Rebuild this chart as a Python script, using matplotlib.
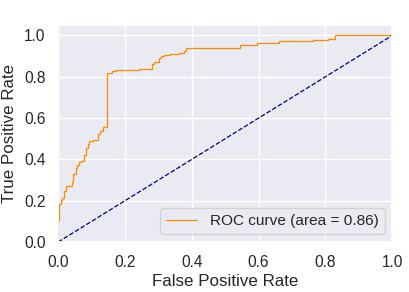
import matplotlib
matplotlib.use("Agg")
import matplotlib.pyplot as plt
import seaborn as sns

sns.set_theme(style="darkgrid")
plt.rcParams['font.family'] = ['Liberation Sans', 'DejaVu Sans']

# ROC step points: at each fpr the tpr rises to the given value
fpr = [0.0, 0.0, 0.004, 0.009, 0.013, 0.019, 0.025, 0.041, 0.046, 0.053, 0.058,
       0.063, 0.068, 0.079, 0.085, 0.091, 0.094, 0.106, 0.118, 0.126, 0.133,
       0.145, 0.161, 0.172, 0.241, 0.281, 0.288, 0.301, 0.309, 0.316, 0.336,
       0.363, 0.376, 0.383, 0.545, 0.594, 0.66, 0.762, 0.808, 0.83, 1.0]
tpr = [0.0, 0.106, 0.182, 0.203, 0.211, 0.246, 0.27, 0.29, 0.328, 0.36, 0.375,
       0.386, 0.393, 0.419, 0.453, 0.477, 0.49, 0.496, 0.525, 0.536, 0.557,
       0.82, 0.826, 0.834, 0.839, 0.86, 0.873, 0.892, 0.899, 0.903, 0.908,
       0.916, 0.926, 0.94, 0.952, 0.965, 0.974, 0.979, 0.985, 1.0, 1.0]
roc_auc = 0.86

fig = plt.figure(figsize=(4.09, 2.92), dpi=100)
ax = fig.add_axes([0.142, 0.171, 0.817, 0.743])

ax.plot(fpr, tpr, color='darkorange', lw=0.9, drawstyle='steps-post',
        label='ROC curve (area = %0.2f)' % roc_auc)
ax.plot([0, 1], [0, 1], color='navy', lw=0.9, linestyle='--')
ax.set_xlim([0.0, 1.0])
ax.set_ylim([0.0, 1.05])
ax.tick_params(labelsize=11.2, pad=3)
ax.set_xlabel('False Positive Rate', fontsize=12.2, labelpad=3)
ax.set_ylabel('True Positive Rate', fontsize=12.2, labelpad=5)
ax.legend(loc="lower right", fontsize=11.1)

fig.savefig("out.png", dpi=100)
